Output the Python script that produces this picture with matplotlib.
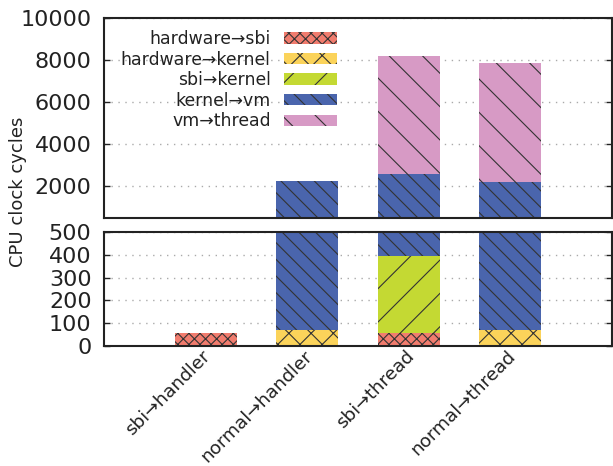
import numpy as np
import matplotlib
matplotlib.use("Agg")
import matplotlib.pyplot as plt
from matplotlib.transforms import ScaledTranslation

categories = ["sbi→handler", "normal→handler", "sbi→thread", "normal→thread"]
series_names = ["hardware→sbi", "hardware→kernel", "sbi→kernel", "kernel→vm", "vm→thread"]
hw_sbi = [58, 0, 55, 0]
hw_kernel = [0, 70, 0, 70]
sbi_kernel = [0, 0, 340, 0]
kernel_vm = [0, 2200, 2175, 2150]
vm_thread = [0, 0, 5620, 5640]

colors = ["#F17C6E", "#FBD35A", "#C4D933", "#4A65AD", "#D79AC5"]
hatches = ["x" * 6, "x" * 3, "//", "\\" * 4, "\\" * 2]

plt.rcParams["hatch.linewidth"] = 0.4
plt.rcParams["text.color"] = "#222222"
plt.rcParams["xtick.color"] = "#222222"
plt.rcParams["ytick.color"] = "#222222"

# 613x466 px, drawn at dpi 200
fig = plt.figure(figsize=(3.065, 2.33), dpi=200)
left, width = 104 / 613, 508 / 613
ax_top = fig.add_axes([left, 1 - 218 / 466, width, 200 / 466])
ax_bot = fig.add_axes([left, 1 - 346 / 466, width, 114 / 466])

x = np.arange(1, len(categories) + 1)
stack = [hw_sbi, hw_kernel, sbi_kernel, kernel_vm, vm_thread]

for ax in (ax_top, ax_bot):
    bottom = np.zeros(len(categories))
    for vals, name, c, h in zip(stack, series_names, colors, hatches):
        vals = np.array(vals, dtype=float)
        ax.bar(x, vals, bottom=bottom, width=0.61, color=c, hatch=h,
               edgecolor="#333333", linewidth=0, label=name, zorder=2)
        bottom += vals
    ax.set_xlim(0, 5)
    for s in ax.spines.values():
        s.set_linewidth(0.75)
        s.set_color("#222222")
    ax.tick_params(axis="y", direction="in", length=2.2, width=0.5,
                   left=True, right=True, labelsize=8, pad=4.5)
    ax.grid(axis="y", color="#aaaaaa", linestyle=(0, (1, 4)), linewidth=0.5, zorder=0)
    ax.set_axisbelow(True)

ax_top.set_ylim(500, 10000)
ax_top.set_yticks([2000, 4000, 6000, 8000, 10000])
ax_top.set_xticks([])

ax_bot.set_ylim(0, 500)
ax_bot.set_yticks([0, 100, 200, 300, 400, 500])
ax_bot.set_xticks(x)
ax_bot.set_xticklabels(categories, rotation=45, ha="right", va="top",
                       rotation_mode="anchor", fontsize=6.6)
ax_bot.tick_params(axis="x", length=0, pad=0.5)
shift = ScaledTranslation(-4 / 200, 0, fig.dpi_scale_trans)
for lab in ax_bot.get_xticklabels():
    lab.set_transform(lab.get_transform() + shift)

ax_top.legend(loc="upper right", bbox_to_anchor=(337 / 613, 1 - 30 / 466),
              bbox_transform=fig.transFigure, frameon=False, markerfirst=False,
              fontsize=6.2, borderpad=0, borderaxespad=0, labelspacing=0.15,
              handlelength=3.1, handleheight=0.64, handletextpad=0.75)

fig.text(18 / 613, 0.589, "CPU clock cycles", rotation=90, ha="center",
         va="center", fontsize=6.5)

fig.savefig("out.png", dpi=200)
